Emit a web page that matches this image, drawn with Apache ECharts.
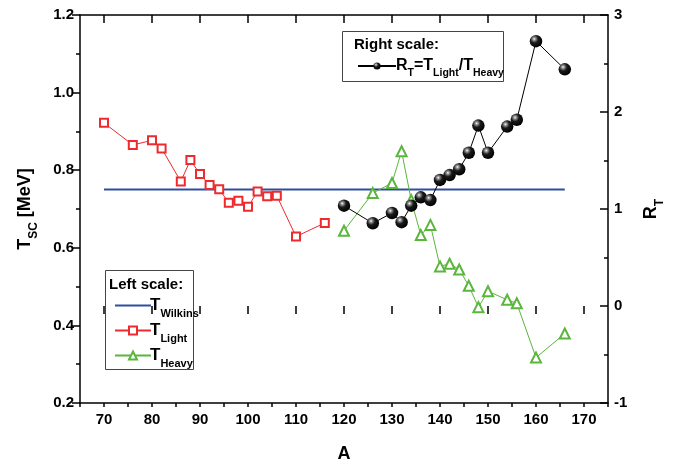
<!DOCTYPE html>
<html>
<head>
<meta charset="utf-8">
<script src="https://cdn.jsdelivr.net/npm/echarts@6/dist/echarts.min.js"></script>
<style>html,body{margin:0;padding:0;background:#fff}#c{width:683px;height:468px}</style>
</head>
<body>
<div id="c"></div>
<script>
// ---- data ----
const xTickLabels = [65,70,75,80,85,90,95,100,105,110,115,120,125,130,135,140,145,150,155,160,165,170,175];
const leftTicks = [0.2,0.4,0.6,0.8,1.0,1.2];
const rightTicks = [-1,0,1,2,3];
const wilkinsA = [70,166];
const wilkinsT = [0.75,0.75];
const lightA = [70,76,80,82,86,88,90,92,94,96,98,100,102,104,106,110,116];
const lightT = [0.922,0.865,0.877,0.856,0.771,0.826,0.790,0.762,0.751,0.716,0.721,0.706,0.745,0.733,0.734,0.629,0.664];
const heavyA = [120,126,130,132,134,136,138,140,142,144,146,148,150,154,156,160,166];
const heavyT = [0.644,0.741,0.767,0.849,0.723,0.633,0.659,0.552,0.559,0.544,0.502,0.447,0.488,0.466,0.457,0.317,0.379];
const ratioR = [1.034,0.853,0.959,0.864,1.034,1.120,1.092,1.300,1.350,1.410,1.580,1.860,1.580,1.850,1.920,2.730,2.440];

const zip = (a,b) => a.map((v,i)=>[v,b[i]]);
const FONT = "'Liberation Sans Narrow','Liberation Sans',Arial,sans-serif";
const RED = '#ee2a2e', GREEN = '#5ab63c', BLUE = '#2f4f9e';
const sphere = {type:'radial', x:0.36, y:0.32, r:0.7, colorStops:[{offset:0,color:'#ffffff'},{offset:0.15,color:'#999'},{offset:0.45,color:'#1a1a1a'},{offset:1,color:'#000'}]};

const labelStyle = {fontFamily:FONT, fontWeight:'bold', fontSize:15, color:'#000'};
const rich = {
  t:{fontFamily:FONT, fontWeight:'bold', fontSize:17, color:'#000', verticalAlign:'bottom'},
  s:{fontFamily:FONT, fontWeight:'bold', fontSize:11, color:'#000', verticalAlign:'bottom', padding:[0,0,-5,0]}
};
const richR = {
  t:{fontFamily:FONT, fontWeight:'bold', fontSize:16, color:'#000', verticalAlign:'bottom'},
  s:{fontFamily:FONT, fontWeight:'bold', fontSize:10.5, color:'#000', verticalAlign:'bottom', padding:[0,0,-5,0]}
};
const legendNames = {
  TW:'{t|T}{s|Wilkins}', TL:'{t|T}{s|Light}', TH:'{t|T}{s|Heavy}',
  RT:'{t|R}{s|T}{t|=T}{s|Light}{t|/T}{s|Heavy}'
};

const chart = echarts.init(document.getElementById('c'), null, {renderer:'canvas'});
chart.setOption({
  backgroundColor:'#fff',
  animation:false,
  grid:{left:80, right:75, top:15, bottom:62},
  xAxis:[
    {type:'value', min:xTickLabels[0], max:xTickLabels[xTickLabels.length-1], interval:5, position:'bottom',
     axisLine:{show:true, onZero:false, lineStyle:{color:'#000', width:1.5}},
     axisTick:{show:true, length:4, lineStyle:{color:'#000', width:1.5}},
     axisLabel:{show:false}, splitLine:{show:false},
     name:'A', nameLocation:'middle', nameGap:42,
     nameTextStyle:{fontFamily:FONT, fontWeight:'bold', fontSize:18, color:'#000'}},
    {type:'category', data:xTickLabels.map(String), boundaryGap:false, position:'bottom',
     axisLine:{show:false},
     axisTick:{show:true, length:8, interval:(i,v)=>(+v)%10===0, lineStyle:{color:'#000', width:1.5}},
     axisLabel:Object.assign({interval:(i,v)=>(+v)%10===0, margin:9}, labelStyle),
     splitLine:{show:false}},
    {type:'category', data:xTickLabels.map(String), boundaryGap:false, position:'top',
     axisLine:{show:true, lineStyle:{color:'#000', width:1.5}},
     axisTick:{show:true, inside:true, length:8, interval:(i,v)=>(+v)%10===0, lineStyle:{color:'#000', width:1.5}},
     axisLabel:{show:false}, splitLine:{show:false}}
  ],
  yAxis:[
    {type:'value', min:leftTicks[0], max:leftTicks[leftTicks.length-1], interval:0.2, position:'left',
     axisLine:{show:true, onZero:false, lineStyle:{color:'#000', width:1.5}},
     axisTick:{show:true, length:8, lineStyle:{color:'#000', width:1.5}},
     minorTick:{show:true, splitNumber:2, length:4, lineStyle:{color:'#000', width:1.5}},
     axisLabel:Object.assign({formatter:v=>v.toFixed(1), margin:6}, labelStyle),
     splitLine:{show:false},
     name:'T{s|SC} [MeV]', nameLocation:'middle', nameGap:46, nameRotate:90,
     nameTextStyle:{fontFamily:FONT, fontWeight:'bold', fontSize:18, color:'#000',
       rich:{s:{fontFamily:FONT, fontWeight:'bold', fontSize:12, color:'#000', verticalAlign:'bottom', padding:[0,0,-6,0]}}}},
    {type:'value', min:rightTicks[0], max:rightTicks[rightTicks.length-1], interval:1, position:'right',
     axisLine:{show:true, onZero:false, lineStyle:{color:'#000', width:1.5}},
     axisTick:{show:true, inside:true, length:8, lineStyle:{color:'#000', width:1.5}},
     minorTick:{show:true, splitNumber:2, length:4, lineStyle:{color:'#000', width:1.5}},
     axisLabel:Object.assign({margin:6}, labelStyle),
     splitLine:{show:false},
     name:'R{s|T}', nameLocation:'middle', nameGap:34, nameRotate:90,
     nameTextStyle:{fontFamily:FONT, fontWeight:'bold', fontSize:18, color:'#000',
       rich:{s:{fontFamily:FONT, fontWeight:'bold', fontSize:12, color:'#000', verticalAlign:'bottom', padding:[0,0,-6,0]}}}}
  ],
  legend:[
    {data:[{name:'TW', itemStyle:{opacity:0}},'TL','TH'], orient:'vertical', left:109, top:292, itemWidth:36, itemHeight:10, itemGap:3,
     selectedMode:false, formatter:n=>legendNames[n], textStyle:{rich:rich, padding:[0,0,0,-6]}},
    {data:['RT'], orient:'vertical', left:352, top:53, itemWidth:38, itemHeight:9, itemGap:2,
     selectedMode:false, formatter:n=>legendNames[n], textStyle:{rich:richR, padding:[0,0,0,-5]}}
  ],
  graphic:[
    {type:'rect', shape:{x:105.5, y:270.5, width:88, height:99}, style:{fill:'#fff', stroke:'#444', lineWidth:1}, z:0},
    {type:'text', left:109, top:277, style:{text:'Left scale:', font:"bold 15px "+FONT, fill:'#000'}, z:10},
    {type:'rect', shape:{x:342.5, y:31.5, width:161, height:50}, style:{fill:'#fff', stroke:'#444', lineWidth:1}, z:0},
    {type:'text', left:354, top:37, style:{text:'Right scale:', font:"bold 15px "+FONT, fill:'#000'}, z:10}
  ],
  series:[
    {name:'TW', type:'line', xAxisIndex:0, yAxisIndex:0, data:zip(wilkinsA,wilkinsT), symbol:'none',
     lineStyle:{color:BLUE, width:2}, itemStyle:{color:BLUE}, z:3},
    {name:'TL', type:'line', xAxisIndex:0, yAxisIndex:0, data:zip(lightA,lightT), symbol:'rect', symbolSize:8,
     lineStyle:{color:RED, width:1}, itemStyle:{color:'#fff', borderColor:RED, borderWidth:2}, z:4},
    {name:'TH', type:'line', xAxisIndex:0, yAxisIndex:0, data:zip(heavyA,heavyT), symbol:'triangle', symbolSize:10,
     lineStyle:{color:GREEN, width:1}, itemStyle:{color:'#fff', borderColor:GREEN, borderWidth:2}, z:4},
    {name:'RT', type:'line', xAxisIndex:0, yAxisIndex:1, data:zip(heavyA,ratioR), symbol:'circle', symbolSize:12.5,
     lineStyle:{color:'#000', width:1}, itemStyle:{color:sphere, borderWidth:0}, z:5}
  ]
});
</script>
</body>
</html>
